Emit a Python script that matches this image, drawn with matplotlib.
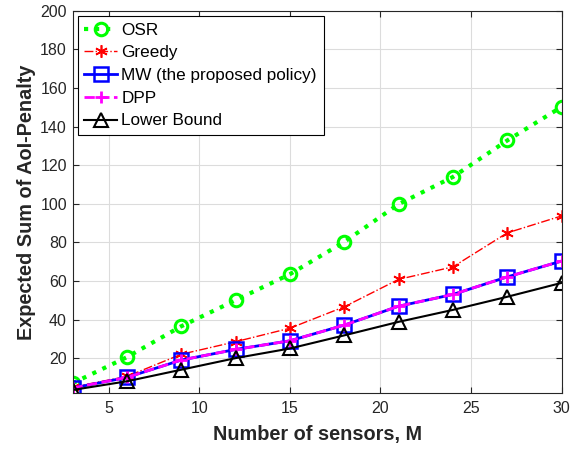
import matplotlib
matplotlib.use("Agg")
import matplotlib.pyplot as plt

plt.rcParams["font.family"] = ["Liberation Sans", "DejaVu Sans"]

# --- data ---
M = [3, 6, 9, 12, 15, 18, 21, 24, 27, 30]
osr = [7, 20.5, 36.5, 50, 63.5, 80.2, 99.8, 113.9, 132.8, 150.2]
greedy = [5, 10.5, 22, 28.5, 35.5, 46.6, 60.8, 67.3, 84.9, 93.7]
mw = [4.5, 10, 19, 24.5, 29, 37.1, 46.9, 53, 62.1, 70.3]
dpp = [4.5, 10, 19, 24.5, 29, 37.1, 46.9, 53, 62.1, 70.3]
lower = [3.5, 8, 14, 20, 25, 31.8, 38.8, 45, 51.8, 59]

ASTERISK = (6, 2, 0)

fig = plt.figure(figsize=(5.85, 4.49), dpi=100)
ax = fig.add_axes([0.124, 0.125, 0.836, 0.851])

ax.plot(M, osr, color="#00ff00", linestyle=":", linewidth=3, marker="o",
        markersize=9, markerfacecolor="none", markeredgewidth=2.2, label="OSR")
ax.plot(M, greedy, color="#ff0000", linestyle="-.", linewidth=1, marker=ASTERISK,
        markersize=9, markeredgewidth=1.2, label="Greedy")
ax.plot(M, mw, color="#0000ff", linestyle="-", linewidth=2, marker="s",
        markersize=10, markerfacecolor="none", markeredgewidth=1.8,
        label="MW (the proposed policy)")
ax.plot(M, dpp, color="#ff00ff", linestyle="--", linewidth=2, marker="+",
        markersize=9, markeredgewidth=2, label="DPP")
ax.plot(M, lower, color="black", linestyle="-", linewidth=1.5, marker="^",
        markersize=10, markerfacecolor="none", markeredgewidth=1.5,
        label="Lower Bound")

ax.set_xlim(3, 30)
ax.set_ylim(2, 200)
ax.set_xticks([5, 10, 15, 20, 25, 30])
ax.set_yticks(range(20, 201, 20))
ax.tick_params(direction="in", top=True, right=True, labelsize=11.5,
               colors="#262626", length=4)
ax.tick_params(axis="x", pad=6)
ax.tick_params(axis="y", pad=4)
ax.grid(True, color="#dcdcdc", linewidth=0.8)
ax.set_axisbelow(True)
for s in ax.spines.values():
    s.set_color("#262626")
    s.set_linewidth(0.8)

ax.set_xlabel("Number of sensors, M", fontsize=14.3, fontweight="bold",
              color="#262626", labelpad=6)
ax.set_ylabel("Expected Sum of AoI-Penalty", fontsize=14.3, fontweight="bold",
              color="#262626", labelpad=3)

leg = ax.legend(loc="upper left", fontsize=12.3, frameon=True, fancybox=False,
                edgecolor="black", framealpha=1, handlelength=1.9,
                borderaxespad=0.3, labelspacing=0.45, handletextpad=0.25,
                borderpad=0.4)
leg.get_frame().set_linewidth(0.8)

fig.savefig("out.png", dpi=100)
